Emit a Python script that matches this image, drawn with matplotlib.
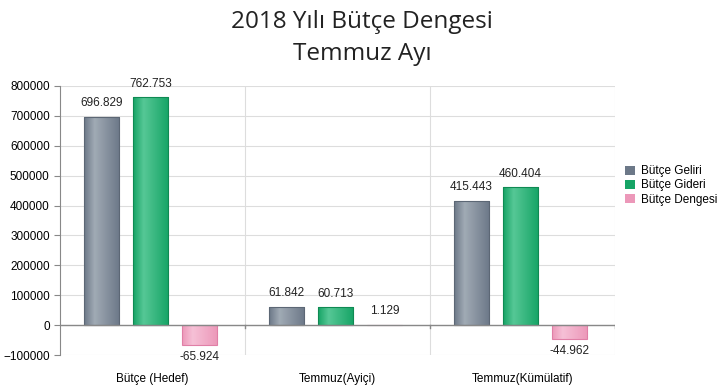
import matplotlib.pyplot as plt
import numpy as np
from matplotlib.colors import LinearSegmentedColormap
from matplotlib.patches import Patch

categories = ['Bütçe (Hedef)', 'Temmuz(Ayiçi)', 'Temmuz(Kümülatif)']
series = ['Bütçe Geliri', 'Bütçe Gideri', 'Bütçe Dengesi']
gelir = [696829, 61842, 415443]
gider = [762753, 60713, 460404]
denge = [-65924, 1129, -44962]
labels = [['696.829', '61.842', '415.443'],
          ['762.753', '60.713', '460.404'],
          ['-65.924', '1.129', '-44.962']]

colors = [('#6c7888', '#a0aab4'), ('#16a466', '#55c795'), ('#ec98b9', '#f6c0d6')]
edges = ['#5c6775', '#0f8a53', '#e07fa6']

plt.rcParams['font.family'] = ['Liberation Sans', 'DejaVu Sans']
fig = plt.figure(figsize=(7.24, 3.92), dpi=100)
ax = fig.add_axes([0.083, 0.094, 0.766, 0.687])

x = np.arange(len(categories))
w = 0.19
step = 0.265
grad = np.concatenate([np.linspace(0, 1, 30), np.linspace(1, 0, 70)]).reshape(1, -1)

for i, vals in enumerate([gelir, gider, denge]):
    cmap = LinearSegmentedColormap.from_list('g', [colors[i][0], colors[i][1]])
    for j, v in enumerate(vals):
        xc = x[j] + (i - 1) * step - 0.01
        bars = ax.bar(xc, v, w, color='none', edgecolor=edges[i], linewidth=0.8, zorder=3)
        b = bars[0]
        im = ax.imshow(grad, cmap=cmap, aspect='auto', zorder=2,
                       extent=[xc - w / 2, xc + w / 2, min(0, v), max(0, v)])
        im.set_clip_path(b)
        if v >= 0:
            ax.text(xc, v + 25000, labels[i][j], ha='center', va='bottom', fontsize=8.5, color='#222222')
        else:
            ax.text(xc, v - 20000, labels[i][j], ha='center', va='top', fontsize=8.5, color='#222222')

ax.set_xlim(-0.5, 2.5)
ax.set_ylim(-100000, 800000)
ax.set_yticks(np.arange(-100000, 800001, 100000))
ax.set_xticks(x)
ax.set_xticklabels(categories)
ax.tick_params(axis='x', length=0, pad=13, labelsize=8.5)
ax.tick_params(axis='y', length=4, color='#888888', labelsize=8.5)
ax.grid(axis='y', color='#dddddd', linewidth=0.8, zorder=0)
for xb in [0.5, 1.5, 2.5]:
    ax.axvline(xb, color='#dddddd', linewidth=0.8, zorder=0)
    ax.plot([xb, xb], [0, -9000], color='#888888', linewidth=1, zorder=4)
ax.axhline(0, color='#888888', linewidth=1, zorder=4)
for s in ['top', 'right', 'bottom']:
    ax.spines[s].set_visible(False)
ax.spines['left'].set_color('#888888')

fig.suptitle('2018 Yılı Bütçe Dengesi\nTemmuz Ayı', y=0.975, fontsize=17.5,
             family=['Open Sans', 'DejaVu Sans'], color='#222222', linespacing=1.45)

handles = [Patch(facecolor=colors[i][0], edgecolor='none') for i in range(3)]
ax.legend(handles, series, loc='center left', bbox_to_anchor=(1.0, 0.63), frameon=False,
          fontsize=8.5, handlelength=0.8, handleheight=0.8, handletextpad=0.5, labelspacing=0.2)

fig.savefig('out.png', dpi=100)
